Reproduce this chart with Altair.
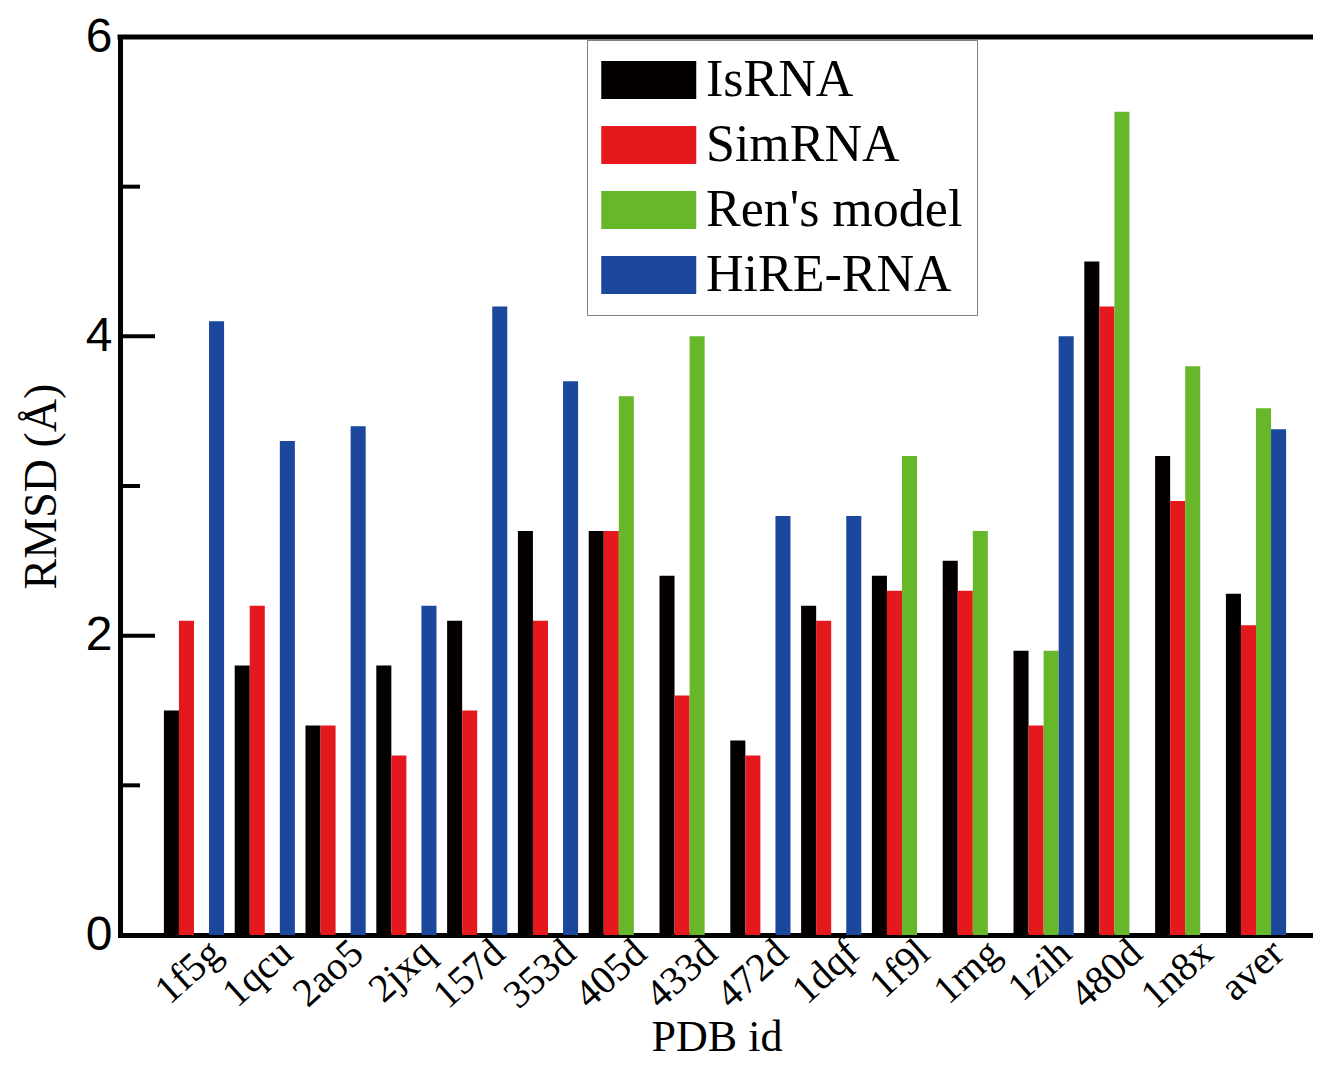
import altair as alt
import pandas as pd

pdb_ids = ["1f5g", "1qcu", "2ao5", "2jxq", "157d", "353d", "405d", "433d",
           "472d", "1dqf", "1f9l", "1rng", "1zih", "480d", "1n8x", "aver"]
series = ["IsRNA", "SimRNA", "Ren's model", "HiRE-RNA"]

isrna  = [1.5, 1.8, 1.4, 1.8, 2.1, 2.7, 2.7, 2.4, 1.3, 2.2, 2.4, 2.5, 1.9, 4.5, 3.2, 2.28]
simrna = [2.1, 2.2, 1.4, 1.2, 1.5, 2.1, 2.7, 1.6, 1.2, 2.1, 2.3, 2.3, 1.4, 4.2, 2.9, 2.07]
ren    = [None, None, None, None, None, None, 3.6, 4.0, None, None, 3.2, 2.7, 1.9, 5.5, 3.8, 3.52]
hire   = [4.1, 3.3, 3.4, 2.2, 4.2, 3.7, None, None, 2.8, 2.8, None, None, 4.0, None, None, 3.38]

colors = ["#050000", "#e5181e", "#67b72b", "#1b479d"]
y_major = [0, 2, 4, 6]
y_minor = [1, 3, 5]

rows = []
for name, vals in zip(series, [isrna, simrna, ren, hire]):
    for pid, v in zip(pdb_ids, vals):
        if v is not None:
            rows.append({"pdb": pid, "model": name, "rmsd": v})
df = pd.DataFrame(rows)

W, H = 1193, 898
yscale = alt.Scale(domain=[y_major[0], y_major[-1]], nice=False, zero=True)

yaxis = alt.Axis(values=y_major, title="RMSD (Å)", ticks=False, tickSize=0,
                 grid=False, domainWidth=5, domainColor="black", domainCap="square",
                 labelFont="Liberation Sans", labelFontSize=48, labelColor="black",
                 labelPadding=8,
                 titleFont="Liberation Serif", titleFontSize=46,
                 titleFontWeight="normal", titleColor="black", titlePadding=20)

bars = alt.Chart(df).mark_bar(strokeWidth=0).encode(
    x=alt.X("pdb:N", sort=pdb_ids,
            scale=alt.Scale(paddingInner=0.15, paddingOuter=0.5, align=0.62),
            axis=alt.Axis(title="PDB id", labelAngle=-42, labelAlign="right",
                          labelBaseline="middle", labelOffset=22, labelPadding=12,
                          ticks=False, tickSize=0, domainWidth=5, domainColor="black",
                          domainCap="square",
                          labelFont="Liberation Serif", labelFontSize=40, labelColor="black",
                          titleFont="Liberation Serif", titleFontSize=44,
                          titleFontWeight="normal", titleColor="black", titlePadding=0)),
    xOffset=alt.XOffset("model:N", sort=series,
                        scale=alt.Scale(domain=series, paddingInner=0, paddingOuter=0)),
    y=alt.Y("rmsd:Q", scale=yscale, axis=yaxis),
    color=alt.Color("model:N",
                    scale=alt.Scale(domain=series, range=colors),
                    legend=alt.Legend(title=None, orient="none", legendX=467, legendY=3,
                                      symbolType="M-1.084,-0.8H2.916V0.8H-1.084Z",
                                      symbolSize=2256,
                                      symbolStrokeWidth=0, symbolOpacity=1,
                                      labelFont="Liberation Serif", labelFontSize=52,
                                      labelColor="black", labelOffset=53, labelLimit=0,
                                      rowPadding=13, padding=14,
                                      strokeColor="#808080", fillColor="white")),
)

top_line = alt.Chart(pd.DataFrame({"rmsd": [y_major[-1]]})).mark_rule(
    color="black", strokeWidth=5, strokeCap="square").encode(
    y=alt.Y("rmsd:Q", scale=yscale, axis=yaxis),
    x=alt.value(0), x2=alt.value(W))

major_ticks = alt.Chart(pd.DataFrame({"rmsd": y_major})).mark_rule(
    color="black", strokeWidth=4).encode(
    y=alt.Y("rmsd:Q", scale=yscale, axis=yaxis),
    x=alt.value(0), x2=alt.value(35))

minor_ticks = alt.Chart(pd.DataFrame({"rmsd": y_minor})).mark_rule(
    color="black", strokeWidth=4).encode(
    y=alt.Y("rmsd:Q", scale=yscale, axis=yaxis),
    x=alt.value(0), x2=alt.value(20))

chart = alt.layer(bars, top_line, major_ticks, minor_ticks).properties(
    width=W, height=H,
    autosize=alt.AutoSizeParams(type="none"),
    padding={"left": 112, "top": 29, "right": 0, "bottom": 130},
).configure_view(stroke=None).configure(background="white")

chart.save("out.html", embed_options={"renderer": "svg", "actions": False})
